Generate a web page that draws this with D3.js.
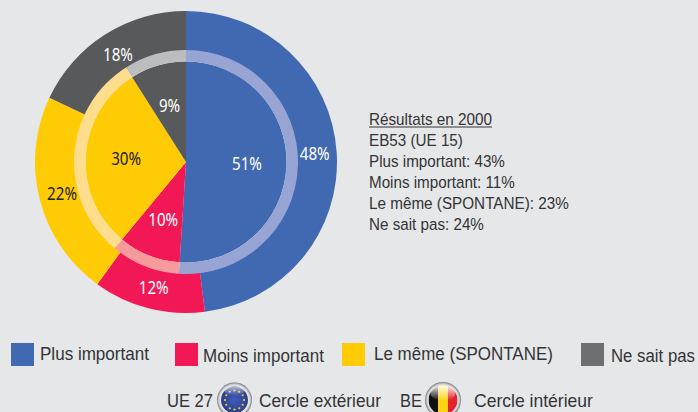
<!DOCTYPE html>
<html>
<head>
<meta charset="utf-8">
<script src="https://cdn.jsdelivr.net/npm/d3@7"></script>
<style>
  html, body { margin: 0; padding: 0; background: #e6e7e9; }
  svg { display: block; }
  .txt { font-family: "Liberation Sans", Arial, sans-serif; fill: #333436; }
  .pct { font-family: "Noto Sans", "Open Sans", sans-serif; font-size: 18.5px; text-anchor: middle; }
</style>
</head>
<body>
<svg id="chart" width="698" height="412"></svg>
<script>
// Values
var categories = ["Plus important", "Moins important", "Le même (SPONTANE)", "Ne sait pas"];
var outerValues = [48, 12, 22, 18];   // UE 27
var innerValues = [51, 10, 30, 9];    // BE
var sliceColors = ["#4169b2", "#f21755", "#ffcb05", "#58595b"];
var ringColors = ["#97a4d4", "#f79a9c", "#fede8c", "#bbbdbf"];
var legendColors = ["#4169b2", "#f21755", "#ffcb05", "#6d6e70"];
var labelColors = ["#fff", "#fff", "#222", "#fff"];
var notes = ["Résultats en 2000", "EB53 (UE 15)", "Plus important: 43%", "Moins important: 11%",
  "Le même (SPONTANE): 23%", "Ne sait pas: 24%"];

var svg = d3.select("#chart");

var cx = 186, cy = 162;
var rOuter = 151, rRingOut = 112, rRingIn = 100.5;
var outerLabelR = [129, 130, 128, 127];
var innerLabelR = [61, 62, 60, 59];

var pie = d3.pie().sort(null).value(function(d) { return d; });
var outerArcs = pie(outerValues);
var innerArcs = pie(innerValues);

var g = svg.append("g").attr("transform", "translate(" + cx + "," + cy + ")");

// outer circle
g.selectAll("path.outer")
  .data(outerArcs)
  .enter()
  .append("path")
  .attr("class", "outer")
  .attr("d", d3.arc().innerRadius(rRingOut - 2).outerRadius(rOuter))
  .attr("fill", function(d, i) { return sliceColors[i]; });

// inner circle
g.selectAll("path.inner")
  .data(innerArcs)
  .enter()
  .append("path")
  .attr("class", "inner")
  .attr("d", d3.arc().innerRadius(0).outerRadius(rRingIn))
  .attr("fill", function(d, i) { return sliceColors[i]; });

// pale ring between the two
g.selectAll("path.ring")
  .data(innerArcs)
  .enter()
  .append("path")
  .attr("class", "ring")
  .attr("d", d3.arc().innerRadius(rRingIn).outerRadius(rRingOut))
  .attr("fill", function(d, i) { return ringColors[i]; });

function polar(d, r) {
  var a = (d.startAngle + d.endAngle) / 2;
  return [Math.sin(a) * r, -Math.cos(a) * r];
}

// the source type is narrower than the installed fonts: scale each text to its width
function fitText(sel, xs, ys, widths) {
  sel.each(function(d, i) {
    var w = this.getComputedTextLength();
    d3.select(this).attr("transform",
      "translate(" + xs(i) + "," + ys(i) + ") scale(" + widths(i, w) / w + ",1)");
  });
}

// labels
function pctLabels(cls, arcs, radii) {
  var t = g.selectAll("text." + cls)
    .data(arcs)
    .enter()
    .append("text")
    .attr("class", "pct " + cls)
    .attr("fill", function(d, i) { return labelColors[i]; })
    .text(function(d) { return d.value + "%"; });
  fitText(t,
    function(i) { return polar(arcs[i], radii[i])[0]; },
    function(i) { return polar(arcs[i], radii[i])[1] + 6.5; },
    function(i, w) { return w * 0.82; });
}
pctLabels("outerpct", outerArcs, outerLabelR);
pctLabels("innerpct", innerArcs, innerLabelR);

// side note
var noteW = [123, 94, 136, 146, 200, 115];
var noteText = svg.append("g").selectAll("text")
  .data(notes)
  .enter()
  .append("text")
  .attr("class", "txt")
  .attr("font-size", 17)
  .text(function(d) { return d; });
fitText(noteText,
  function() { return 369; },
  function(i) { return 125 + i * 21; },
  function(i) { return noteW[i]; });
// underline of the first line
svg.append("line")
  .attr("x1", 369).attr("x2", 492)
  .attr("y1", 127).attr("y2", 127)
  .attr("stroke", "#333436");

// legend
var legendX = [11, 175, 342, 581];
var legendTextX = [40, 203, 374, 611];
var legendTextY = [360, 362, 360, 362];
var legendTextW = [109, 121, 179, 84];

var legend = svg.selectAll("g.legend")
  .data(categories)
  .enter()
  .append("g")
  .attr("class", "legend");

legend.append("rect")
  .attr("x", function(d, i) { return legendX[i]; })
  .attr("y", 343)
  .attr("width", 23)
  .attr("height", 23)
  .attr("fill", function(d, i) { return legendColors[i]; });

var legendText = legend.append("text")
  .attr("class", "txt")
  .attr("font-size", 18.5)
  .text(function(d) { return d; });
fitText(legendText,
  function(i) { return legendTextX[i]; },
  function(i) { return legendTextY[i]; },
  function(i) { return legendTextW[i]; });

// bottom line with the two badges
var bottomText = ["UE 27", "Cercle extérieur", "BE", "Cercle intérieur"];
var bottomX = [167, 259, 400, 474];
var bottomW = [46, 122, 22, 119];
var bottomLine = svg.selectAll("text.bottom")
  .data(bottomText)
  .enter()
  .append("text")
  .attr("class", "txt bottom")
  .attr("font-size", 18.5)
  .text(function(d) { return d; });
fitText(bottomLine,
  function(i) { return bottomX[i]; },
  function() { return 407; },
  function(i) { return bottomW[i]; });

var defs = svg.append("defs");
var rim = defs.append("radialGradient").attr("id", "rim");
rim.append("stop").attr("offset", "78%").attr("stop-color", "#f2f2f3");
rim.append("stop").attr("offset", "90%").attr("stop-color", "#c9cacc");
rim.append("stop").attr("offset", "100%").attr("stop-color", "#77797c");

var shine = defs.append("linearGradient").attr("id", "shine").attr("x1", 0).attr("y1", 0).attr("x2", 0).attr("y2", 1);
shine.append("stop").attr("offset", "0%").attr("stop-color", "#fff").attr("stop-opacity", 0.9);
shine.append("stop").attr("offset", "100%").attr("stop-color", "#fff").attr("stop-opacity", 0);

var globe = defs.append("radialGradient").attr("id", "globe");
globe.append("stop").attr("offset", "0%").attr("stop-color", "#3f5db8");
globe.append("stop").attr("offset", "100%").attr("stop-color", "#2b3f8c");

defs.append("clipPath").attr("id", "beClip").append("circle").attr("cx", 443).attr("cy", 400).attr("r", 14.5);

// EU badge
svg.append("circle").attr("cx", 234.5).attr("cy", 400).attr("r", 17.5).attr("fill", "url(#rim)");
svg.append("circle").attr("cx", 234.5).attr("cy", 400).attr("r", 13.5).attr("fill", "url(#globe)");
svg.append("g").selectAll("circle")
  .data(d3.range(12))
  .enter()
  .append("circle")
  .attr("cx", function(d) { return 234.5 + 9.5 * Math.sin(d * Math.PI / 6); })
  .attr("cy", function(d) { return 400 - 9.5 * Math.cos(d * Math.PI / 6); })
  .attr("r", 1.1)
  .attr("fill", "#f2d22e");
svg.append("ellipse").attr("cx", 234.5).attr("cy", 391).attr("rx", 10).attr("ry", 4.5).attr("fill", "url(#shine)").attr("opacity", 0.7);

// Belgian badge
svg.append("circle").attr("cx", 443).attr("cy", 400).attr("r", 18).attr("fill", "url(#rim)");
var flagColors = ["#111", "#fbd50f", "#e2232c"];
svg.append("g").attr("clip-path", "url(#beClip)")
  .selectAll("rect")
  .data(flagColors)
  .enter()
  .append("rect")
  .attr("x", function(d, i) { return 428.5 + i * 9.7; })
  .attr("y", 385)
  .attr("width", 9.7)
  .attr("height", 30)
  .attr("fill", function(d) { return d; });
svg.append("ellipse").attr("cx", 443).attr("cy", 393).attr("rx", 12.5).attr("ry", 7.5).attr("fill", "url(#shine)");
</script>
</body>
</html>
